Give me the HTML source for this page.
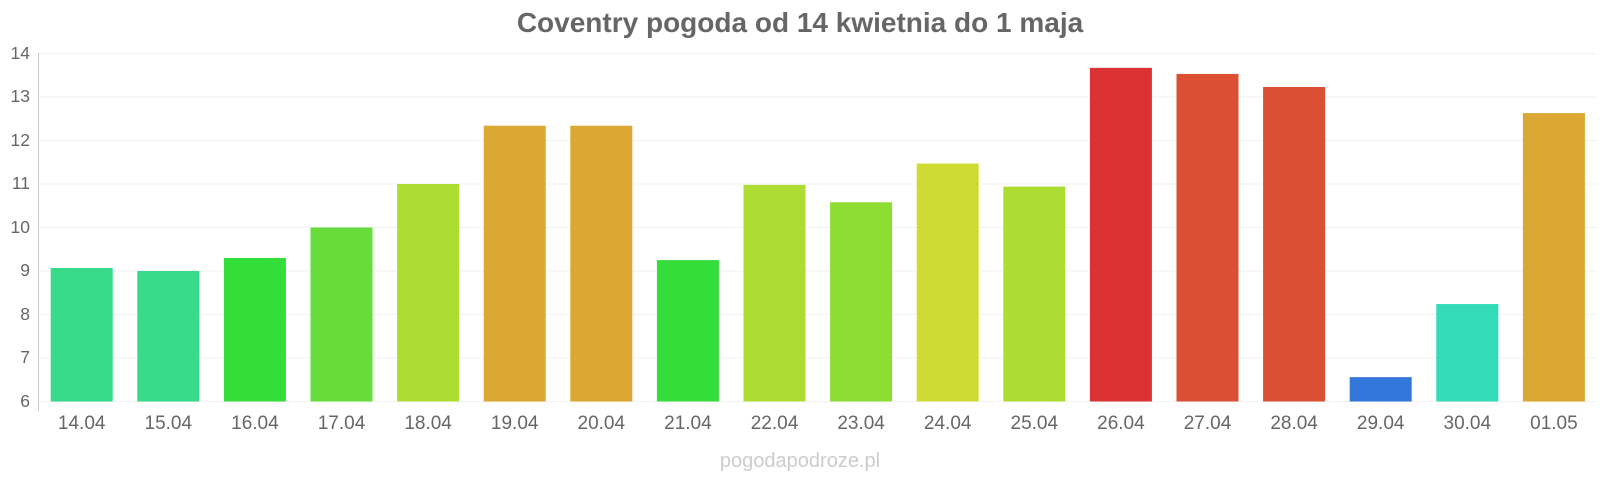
<!DOCTYPE html>
<html><head><meta charset="utf-8"><style>
html,body{margin:0;padding:0;background:#fff;width:1600px;height:480px;overflow:hidden}
</style></head><body>
<svg width="1600" height="480" xmlns="http://www.w3.org/2000/svg" font-family="Liberation Sans, sans-serif">
<text x="800" y="32" text-anchor="middle" font-size="28" font-weight="bold" fill="#666">Coventry pogoda od 14 kwietnia do 1 maja</text>
<g stroke="#f2f2f2" stroke-width="1">
<line x1="39" x2="1597" y1="53.5" y2="53.5"/><line x1="39" x2="1597" y1="97" y2="97"/>
<line x1="39" x2="1597" y1="140.5" y2="140.5"/><line x1="39" x2="1597" y1="184" y2="184"/>
<line x1="39" x2="1597" y1="227.5" y2="227.5"/><line x1="39" x2="1597" y1="271" y2="271"/>
<line x1="39" x2="1597" y1="314.5" y2="314.5"/><line x1="39" x2="1597" y1="358" y2="358"/>
<line x1="39" x2="1597" y1="401.5" y2="401.5"/>
</g>
<line x1="38.5" x2="38.5" y1="53" y2="411" stroke="#ccc"/>
<g font-size="17.5" fill="#666" text-anchor="end">
<text x="30" y="59">14</text><text x="30" y="102">13</text><text x="30" y="146">12</text>
<text x="30" y="189">11</text><text x="30" y="233">10</text><text x="30" y="276">9</text>
<text x="30" y="320">8</text><text x="30" y="363">7</text><text x="30" y="407">6</text>
</g>
<g id="bars"></g>
<g id="labels" font-size="19" fill="#666" text-anchor="middle"></g>
<text x="800" y="467" text-anchor="middle" font-size="20" fill="#ccc">pogodapodroze.pl</text>
</svg>
<script>
var d=[["14.04",9.07,"#38db8a"],["15.04",9.0,"#38db8a"],["16.04",9.3,"#33dd3a"],["17.04",10.0,"#66dd3a"],["18.04",11.0,"#addd33"],["19.04",12.34,"#dba833"],["20.04",12.34,"#dba833"],["21.04",9.25,"#33dd3a"],["22.04",10.98,"#addd33"],["23.04",10.58,"#8ddd33"],["24.04",11.47,"#cddb33"],["25.04",10.94,"#addd33"],["26.04",13.67,"#db3333"],["27.04",13.53,"#db5033"],["28.04",13.23,"#db5033"],["29.04",6.56,"#3377db"],["30.04",8.24,"#33dbb8"],["01.05",12.63,"#dba833"]];
var b=document.getElementById("bars"),l=document.getElementById("labels"),ns="http://www.w3.org/2000/svg";
d.forEach(function(e,i){var x=50.7+i*86.6,top=401.5-(e[1]-6)*43.5;
var r=document.createElementNS(ns,"rect");r.setAttribute("x",x);r.setAttribute("y",top);r.setAttribute("width",62);r.setAttribute("height",401.5-top);r.setAttribute("fill",e[2]);b.appendChild(r);
var t=document.createElementNS(ns,"text");t.setAttribute("x",x+31);t.setAttribute("y",429);t.textContent=e[0];l.appendChild(t);});
</script>
</body></html>
